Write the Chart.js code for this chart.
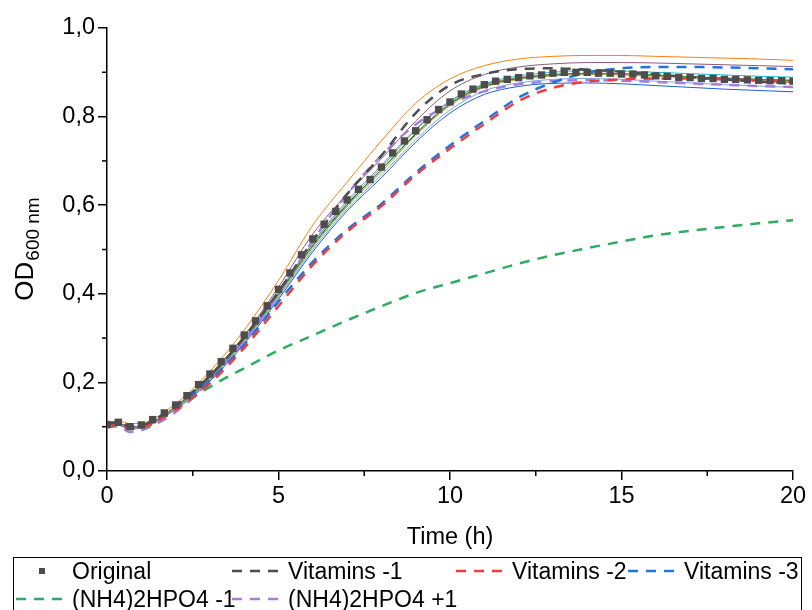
<!DOCTYPE html>
<html>
<head>
<meta charset="utf-8">
<script src="https://cdn.jsdelivr.net/npm/chart.js@4.4.1/dist/chart.umd.min.js"></script>
<style>
  body { margin: 0; background: #fff; }
  #wrap { position: relative; width: 812px; height: 610px; overflow: hidden; }
  #legend {
    position: absolute; left: 13px; top: 557px; width: 789px; height: 70px;
    border: 1px solid #000; box-sizing: border-box;
    font-family: "Liberation Sans", Arial, sans-serif; font-size: 23px; color: #000;
  }
  .item { position: absolute; display: flex; align-items: center; height: 28px; white-space: nowrap; }
  .item svg { margin-right: 2px; }
</style>
</head>
<body>
<div id="wrap">
  <canvas id="growth" width="812" height="610"></canvas>
  <div id="legend"></div>
</div>
<script>
document.addEventListener("DOMContentLoaded", function () {
if (typeof Chart === 'undefined') {
  console.error('Chart.js is not loaded.');
  return;
}

// Original: one reading every 20 min
const timeOriginal = [0, 0.33, 0.67, 1, 1.33, 1.67, 2, 2.33, 2.67, 3, 3.33, 3.67, 4, 4.33, 4.67, 5, 5.33, 5.67,
  6, 6.33, 6.67, 7, 7.33, 7.67, 8, 8.33, 8.67, 9, 9.33, 9.67, 10, 10.33, 10.67, 11, 11.33, 11.67,
  12, 12.33, 12.67, 13, 13.33, 13.67, 14, 14.33, 14.67, 15, 15.33, 15.67, 16, 16.33, 16.67, 17, 17.33, 17.67,
  18, 18.33, 18.67, 19, 19.33, 19.67, 20];
const odOriginal = [0.105, 0.110, 0.100, 0.104, 0.116, 0.131, 0.149, 0.170, 0.195, 0.219, 0.247, 0.277, 0.307, 0.339, 0.373, 0.410, 0.447, 0.488,
  0.524, 0.557, 0.586, 0.612, 0.636, 0.658, 0.686, 0.718, 0.745, 0.768, 0.793, 0.816, 0.833, 0.851, 0.862, 0.872, 0.880, 0.884,
  0.888, 0.892, 0.894, 0.898, 0.900, 0.900, 0.900, 0.898, 0.898, 0.896, 0.896, 0.894, 0.892, 0.891, 0.888, 0.888, 0.886, 0.886,
  0.884, 0.884, 0.883, 0.882, 0.881, 0.881, 0.880];

// other curves read at these times
const timeCurve = [0, 0.33, 0.67, 1, 2, 3, 4, 5, 6, 7, 8, 9, 10, 11, 12, 13, 14, 15, 16, 17, 18, 19, 20];

const odVitamins1 = [0.107, 0.110, 0.101, 0.103, 0.148, 0.215, 0.302, 0.405, 0.520, 0.625, 0.712, 0.808, 0.871, 0.896, 0.907, 0.909, 0.906, 0.901, 0.895, 0.889, 0.884, 0.879, 0.875];
const odVitamins2 = [0.100, 0.104, 0.096, 0.098, 0.138, 0.198, 0.278, 0.372, 0.465, 0.540, 0.598, 0.668, 0.728, 0.783, 0.835, 0.865, 0.879, 0.884, 0.886, 0.886, 0.884, 0.881, 0.878];
const odVitamins3 = [0.104, 0.108, 0.100, 0.101, 0.143, 0.205, 0.285, 0.382, 0.472, 0.545, 0.603, 0.673, 0.735, 0.790, 0.843, 0.877, 0.899, 0.909, 0.912, 0.912, 0.911, 0.909, 0.907];
const odPhosMinus1 = [0.100, 0.103, 0.096, 0.097, 0.140, 0.190, 0.232, 0.272, 0.306, 0.340, 0.372, 0.402, 0.424, 0.446, 0.468, 0.487, 0.503, 0.518, 0.532, 0.542, 0.551, 0.559, 0.566];
const odPhosPlus1 = [0.098, 0.101, 0.088, 0.092, 0.133, 0.203, 0.293, 0.400, 0.520, 0.625, 0.712, 0.782, 0.828, 0.857, 0.873, 0.880, 0.882, 0.881, 0.878, 0.875, 0.872, 0.869, 0.867];

// thin replicate curves (not in legend)
const replicateColors = ['#ff7f0e', '#8c5a7c', '#17becf', '#a9a822', '#2ca02c', '#e3628f', '#7aa6e6', '#1f5fd0', '#444444'];
const replicateValues = [
  [0.110, 0.113, 0.107, 0.108, 0.152, 0.225, 0.318, 0.430, 0.555, 0.652, 0.745, 0.830, 0.885, 0.915, 0.930, 0.936, 0.938, 0.938, 0.936, 0.934, 0.932, 0.930, 0.927],
  [0.105, 0.108, 0.100, 0.101, 0.146, 0.215, 0.305, 0.415, 0.535, 0.625, 0.705, 0.790, 0.858, 0.895, 0.912, 0.919, 0.922, 0.922, 0.921, 0.919, 0.917, 0.915, 0.913],
  [0.104, 0.107, 0.099, 0.101, 0.146, 0.214, 0.300, 0.405, 0.515, 0.605, 0.685, 0.770, 0.835, 0.874, 0.892, 0.900, 0.904, 0.903, 0.900, 0.897, 0.894, 0.891, 0.889],
  [0.103, 0.105, 0.098, 0.099, 0.142, 0.208, 0.292, 0.395, 0.505, 0.597, 0.675, 0.757, 0.825, 0.866, 0.884, 0.892, 0.895, 0.894, 0.891, 0.888, 0.884, 0.881, 0.878],
  [0.104, 0.106, 0.099, 0.100, 0.143, 0.210, 0.295, 0.398, 0.508, 0.600, 0.680, 0.762, 0.830, 0.870, 0.887, 0.895, 0.898, 0.897, 0.894, 0.890, 0.887, 0.884, 0.881],
  [0.103, 0.106, 0.097, 0.099, 0.142, 0.210, 0.298, 0.402, 0.515, 0.610, 0.690, 0.772, 0.835, 0.872, 0.888, 0.895, 0.897, 0.896, 0.892, 0.889, 0.886, 0.883, 0.880],
  [0.102, 0.104, 0.096, 0.098, 0.140, 0.205, 0.290, 0.392, 0.500, 0.592, 0.668, 0.748, 0.815, 0.858, 0.876, 0.884, 0.886, 0.884, 0.880, 0.876, 0.872, 0.869, 0.866],
  [0.101, 0.103, 0.095, 0.097, 0.139, 0.203, 0.287, 0.388, 0.495, 0.587, 0.662, 0.742, 0.808, 0.850, 0.868, 0.875, 0.876, 0.874, 0.870, 0.866, 0.862, 0.859, 0.856],
  [0.104, 0.107, 0.099, 0.100, 0.144, 0.211, 0.297, 0.400, 0.510, 0.602, 0.680, 0.760, 0.828, 0.868, 0.886, 0.894, 0.897, 0.896, 0.893, 0.890, 0.887, 0.884, 0.882]
];

const seriesNames = ['Original', 'Vitamins -1', 'Vitamins -2', 'Vitamins -3', '(NH4)2HPO4 -1', '(NH4)2HPO4 +1'];
const seriesColors = ['#4d4d4d', '#4d4d4d', '#f23b3f', '#1f74e0', '#2ead62', '#a87de0'];
const dashedValues = [odVitamins1, odVitamins2, odVitamins3, odPhosMinus1, odPhosPlus1];

const xMinorTicks = [2.5, 7.5, 12.5, 17.5];
const yMinorTicks = [0.1, 0.3, 0.5, 0.7, 0.9];

const FONT = '"Liberation Sans", Arial, sans-serif';
Chart.defaults.font.family = FONT;
Chart.defaults.font.size = 23.5;
Chart.defaults.color = '#000';

function toPoints(xs, ys) {
  return xs.map((x, i) => ({ x: x, y: ys[i] }));
}

const datasets = [];
datasets.push({
  label: seriesNames[0],
  data: toPoints(timeOriginal, odOriginal),
  showLine: false,
  pointStyle: 'rect',
  pointRadius: 5.2,
  pointBackgroundColor: seriesColors[0],
  pointBorderWidth: 0
});
dashedValues.forEach((vals, i) => {
  datasets.push({
    label: seriesNames[i + 1],
    data: toPoints(timeCurve, vals),
    borderColor: seriesColors[i + 1],
    borderWidth: 2.5,
    borderDash: [10, 8],
    pointRadius: 0,
    cubicInterpolationMode: 'monotone'
  });
});
replicateValues.forEach((vals, i) => {
  datasets.push({
    label: 'replicate ' + (i + 1),
    data: toPoints(timeCurve, vals),
    borderColor: replicateColors[i],
    borderWidth: 1,
    pointRadius: 0,
    cubicInterpolationMode: 'monotone'
  });
});

// minor ticks and the subscripted y title
const axisExtras = {
  id: 'axisExtras',
  afterDraw(chart) {
    const { ctx, scales: { x, y }, chartArea } = chart;
    ctx.save();
    ctx.strokeStyle = '#000';
    ctx.lineWidth = 1.5;
    xMinorTicks.forEach(v => {
      const px = x.getPixelForValue(v);
      ctx.beginPath(); ctx.moveTo(px, chartArea.bottom); ctx.lineTo(px, chartArea.bottom + 5); ctx.stroke();
    });
    yMinorTicks.forEach(v => {
      const py = y.getPixelForValue(v);
      ctx.beginPath(); ctx.moveTo(chartArea.left, py); ctx.lineTo(chartArea.left - 5, py); ctx.stroke();
    });
    const cy = (chartArea.top + chartArea.bottom) / 2;
    ctx.translate(33, cy);
    ctx.rotate(-Math.PI / 2);
    ctx.fillStyle = '#000';
    ctx.textAlign = 'left';
    ctx.textBaseline = 'alphabetic';
    ctx.font = '26px ' + FONT;
    const w1 = ctx.measureText('OD').width;
    ctx.font = '19px ' + FONT;
    const w2 = ctx.measureText('600 nm').width;
    const start = -(w1 + w2) / 2;
    ctx.font = '26px ' + FONT;
    ctx.fillText('OD', start, 0);
    ctx.font = '19px ' + FONT;
    ctx.fillText('600 nm', start + w1 + 1, 6);
    ctx.restore();
  }
};

const ctx = document.getElementById('growth').getContext('2d');
new Chart(ctx, {
  type: 'line',
  data: { datasets: datasets },
  plugins: [axisExtras],
  options: {
    responsive: false,
    animation: false,
    layout: { padding: { left: 0, right: 19, top: 28, bottom: 56 } },
    plugins: {
      legend: { display: false },
      tooltip: { enabled: false }
    },
    scales: {
      x: {
        type: 'linear',
        min: 0, max: 20,
        border: { display: true, color: '#000', width: 1.5 },
        grid: { drawOnChartArea: false, drawTicks: true, tickLength: 9, color: '#000', lineWidth: 1.5 },
        ticks: { stepSize: 5, padding: 2, maxRotation: 0 },
        title: { display: true, text: 'Time (h)', padding: { top: 4, bottom: 2 } },
        afterFit(scale) { scale.height = 83; }
      },
      y: {
        min: 0, max: 1,
        border: { display: true, color: '#000', width: 1.5 },
        grid: { drawOnChartArea: false, drawTicks: true, tickLength: 9, color: '#000', lineWidth: 1.5 },
        ticks: {
          stepSize: 0.2, padding: 3,
          callback: v => v.toFixed(1).replace('.', ',')
        },
        afterFit(scale) { scale.width = 107; }
      }
    }
  }
});

// legend box below the plot, laid out in columns
const legendCols = [16, 232, 456, 628];
const legendRows = [-1, 27];
const legend = document.getElementById('legend');
seriesNames.forEach((name, i) => {
  const item = document.createElement('div');
  item.className = 'item';
  item.style.left = (legendCols[i % 4] - 14) + 'px';
  item.style.top = legendRows[Math.floor(i / 4)] + 'px';
  let sample;
  if (i === 0) {
    sample = '<svg width="54" height="10"><rect x="23" y="2" width="6" height="6" fill="' + seriesColors[0] + '"/></svg>';
  } else {
    sample = '<svg width="54" height="10"><line x1="0" y1="5" x2="53" y2="5" stroke="' + seriesColors[i] +
      '" stroke-width="2.5" stroke-dasharray="10 8"/></svg>';
  }
  item.innerHTML = sample + '<span>' + name + '</span>';
  legend.appendChild(item);
});
});
</script>
</body>
</html>
